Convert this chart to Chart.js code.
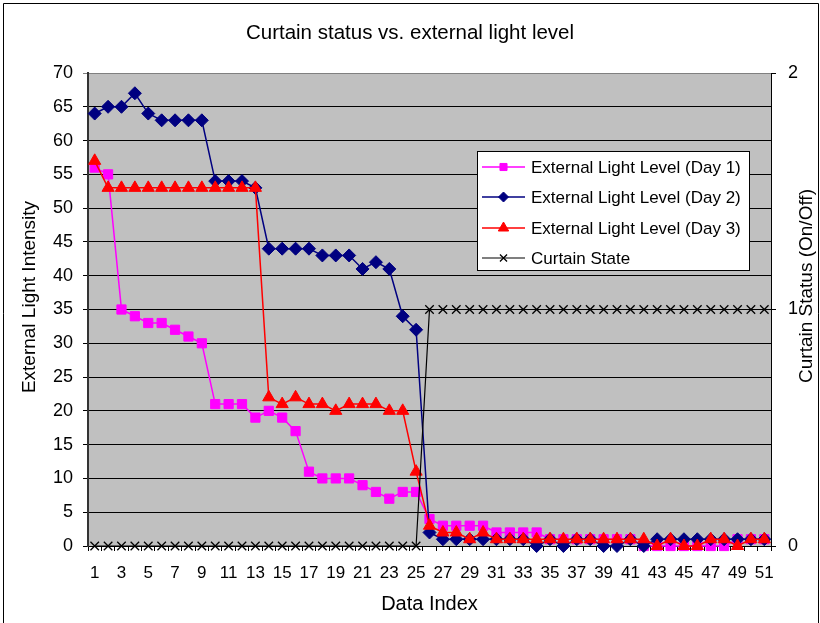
<!DOCTYPE html>
<html>
<head>
<meta charset="utf-8">
<title>Curtain status vs. external light level</title>
<script src="https://cdn.jsdelivr.net/npm/chart.js@4.4.0/dist/chart.umd.min.js"></script>
<style>
    html, body { margin: 0; padding: 0; background: #fff; }
    #wrap { width: 820px; height: 623px; }
</style>
</head>
<body>
<div id="wrap"><canvas id="chart" width="820" height="623"></canvas></div>
<script>
// Chart data
const dataIndex = ['1', '2', '3', '4', '5', '6', '7', '8', '9', '10',
    '11', '12', '13', '14', '15', '16', '17', '18', '19', '20',
    '21', '22', '23', '24', '25', '26', '27', '28', '29', '30',
    '31', '32', '33', '34', '35', '36', '37', '38', '39', '40',
    '41', '42', '43', '44', '45', '46', '47', '48', '49', '50', '51'];

const lightDay1 = [56, 55, 35, 34, 33, 33, 32, 31, 30, 21,
    21, 21, 19, 20, 19, 17, 11, 10, 10, 10,
    9, 8, 7, 8, 8, 4, 3, 3, 3, 3,
    2, 2, 2, 2, 1, 1, 1, 1, 1, 1,
    1, 0, 0, 0, 0, 0, 0, 0, 1, 1, 1];

const lightDay2 = [64, 65, 65, 67, 64, 63, 63, 63, 63, 54,
    54, 54, 53, 44, 44, 44, 44, 43, 43, 43,
    41, 42, 41, 34, 32, 2, 1, 1, 1, 1,
    1, 1, 1, 0, 1, 0, 1, 1, 0, 0,
    1, 0, 1, 1, 1, 1, 1, 1, 1, 1, 1];

const lightDay3 = [57, 53, 53, 53, 53, 53, 53, 53, 53, 53,
    53, 53, 53, 22, 21, 22, 21, 21, 20, 21,
    21, 21, 20, 20, 11, 3, 2, 2, 1, 2,
    1, 1, 1, 1, 1, 1, 1, 1, 1, 1,
    1, 1, 0, 1, 0, 0, 1, 1, 0, 1, 1];

const curtainState = [0, 0, 0, 0, 0, 0, 0, 0, 0, 0,
    0, 0, 0, 0, 0, 0, 0, 0, 0, 0,
    0, 0, 0, 0, 0, 1, 1, 1, 1, 1,
    1, 1, 1, 1, 1, 1, 1, 1, 1, 1,
    1, 1, 1, 1, 1, 1, 1, 1, 1, 1, 1];

const seriesNames = ['External Light Level (Day 1)', 'External Light Level (Day 2)',
    'External Light Level (Day 3)', 'Curtain State'];

const FONT = 'Arial, "Liberation Sans", sans-serif';

// Grey plot area, frame, in-plot legend and axis titles
const excelLook = {
    id: 'excelLook',
    beforeDraw(chart) {
        const { ctx, chartArea: a } = chart;
        ctx.save();
        ctx.fillStyle = '#fff';
        ctx.fillRect(0, 0, chart.width, chart.height);
        ctx.fillStyle = '#c0c0c0';
        ctx.fillRect(a.left, a.top, a.right - a.left, a.bottom - a.top);
        ctx.restore();
    },
    afterDraw(chart) {
        const { ctx } = chart;
        ctx.save();

        // axis titles, both reading bottom to top
        ctx.fillStyle = '#000';
        ctx.font = '19px ' + FONT;
        ctx.textAlign = 'center';
        ctx.textBaseline = 'middle';
        ctx.translate(30, 297);
        ctx.rotate(-Math.PI / 2);
        ctx.fillText('External Light Intensity', 0, 0);
        ctx.setTransform(1, 0, 0, 1, 0, 0);
        ctx.translate(807, 286);
        ctx.rotate(-Math.PI / 2);
        ctx.fillText('Curtain Status (On/Off)', 0, 0);
        ctx.setTransform(1, 0, 0, 1, 0, 0);

        // legend box
        const bx = 477.5, by = 151.5, bw = 272, bh = 119;
        ctx.fillStyle = '#fff';
        ctx.fillRect(bx, by, bw, bh);
        ctx.strokeStyle = '#000';
        ctx.lineWidth = 1;
        ctx.strokeRect(bx, by, bw, bh);

        const rows = [167, 197, 228, 258];
        chart.data.datasets.forEach((ds, i) => {
            const y = rows[i];
            ctx.strokeStyle = ds.borderColor;
            ctx.lineWidth = ds.borderWidth;
            ctx.beginPath();
            ctx.moveTo(482, y);
            ctx.lineTo(525, y);
            ctx.stroke();
            ctx.fillStyle = ds.pointBackgroundColor;
            ctx.strokeStyle = ds.pointBorderColor;
            ctx.lineWidth = ds.pointBorderWidth;
            Chart.helpers.drawPoint(ctx, {
                pointStyle: ds.pointStyle,
                radius: ds.legendRadius,
                rotation: 0,
                borderWidth: ds.pointBorderWidth
            }, 503.5, y);
            ctx.fillStyle = '#000';
            ctx.font = '17px ' + FONT;
            ctx.textAlign = 'left';
            ctx.textBaseline = 'middle';
            ctx.fillText(ds.label, 531, y + 1);
        });

        // outer chart frame
        ctx.strokeStyle = '#000';
        ctx.lineWidth = 1;
        ctx.beginPath();
        ctx.moveTo(3.5, 640);
        ctx.lineTo(3.5, 3.5);
        ctx.lineTo(818.5, 3.5);
        ctx.lineTo(818.5, 640);
        ctx.stroke();
        ctx.restore();
    }
};

const ctx = document.getElementById('chart').getContext('2d');

new Chart(ctx, {
    type: 'line',
    data: {
        labels: dataIndex,
        datasets: [{
            label: seriesNames[0],
            data: lightDay1,
            yAxisID: 'y',
            order: 4,
            borderColor: '#ff00ff',
            borderWidth: 1.5,
            pointStyle: 'rect',
            pointRadius: 6.5,
            legendRadius: 5,
            pointBackgroundColor: '#ff00ff',
            pointBorderColor: '#ff00ff',
            pointBorderWidth: 1
        }, {
            label: seriesNames[1],
            data: lightDay2,
            yAxisID: 'y',
            order: 3,
            borderColor: '#000080',
            borderWidth: 1.5,
            pointStyle: 'rectRot',
            pointRadius: 6.5,
            legendRadius: 5,
            pointBackgroundColor: '#000080',
            pointBorderColor: '#000080',
            pointBorderWidth: 1
        }, {
            label: seriesNames[2],
            data: lightDay3,
            yAxisID: 'y',
            order: 2,
            borderColor: '#ff0000',
            borderWidth: 1.5,
            pointStyle: 'triangle',
            pointRadius: 7,
            legendRadius: 6,
            pointBackgroundColor: '#ff0000',
            pointBorderColor: '#ff0000',
            pointBorderWidth: 1
        }, {
            label: seriesNames[3],
            data: curtainState,
            yAxisID: 'y1',
            order: 1,
            borderColor: '#000',
            borderWidth: 1.2,
            pointStyle: 'crossRot',
            pointRadius: 6,
            legendRadius: 5,
            pointBackgroundColor: '#000',
            pointBorderColor: '#000',
            pointBorderWidth: 1.3
        }]
    },
    options: {
        responsive: false,
        animation: false,
        devicePixelRatio: 1,
        layout: { padding: 0 },
        datasets: { line: { clip: false, tension: 0 } },
        plugins: {
            legend: { display: false },
            tooltip: { enabled: false },
            title: {
                display: true,
                text: 'Curtain status vs. external light level',
                color: '#000',
                font: { family: FONT, size: 20.5, weight: 'normal' },
                padding: { top: 21, bottom: 27.4 }
            }
        },
        scales: {
            x: {
                type: 'category',
                offset: true,
                grid: {
                    display: true,
                    drawOnChartArea: false,
                    drawTicks: true,
                    tickLength: 5,
                    offset: true,
                    color: '#000'
                },
                border: { display: true, color: '#000', width: 1 },
                ticks: {
                    autoSkip: false,
                    maxRotation: 0,
                    minRotation: 0,
                    padding: 12,
                    color: '#000',
                    font: { family: FONT, size: 17 },
                    callback: function (value, index) {
                        return index % 2 === 0 ? this.getLabelForValue(value) : '';
                    }
                },
                title: {
                    display: true,
                    text: 'Data Index',
                    color: '#000',
                    font: { family: FONT, size: 20 },
                    padding: { top: 0, bottom: 7 }
                },
                afterFit: (scale) => { scale.height = 77; }
            },
            y: {
                position: 'left',
                min: 0,
                max: 70,
                ticks: {
                    stepSize: 5,
                    padding: 10,
                    color: '#000',
                    font: { family: FONT, size: 18 }
                },
                grid: {
                    drawTicks: true,
                    tickLength: 5,
                    lineWidth: 1,
                    color: (c) => c.tick && c.tick.value === 70 ? '#808080' : '#000'
                },
                border: { display: true, color: '#333', width: 2 },
                afterFit: (scale) => { scale.width = 88; }
            },
            y1: {
                position: 'right',
                min: 0,
                max: 2,
                ticks: {
                    stepSize: 1,
                    padding: 12,
                    color: '#000',
                    font: { family: FONT, size: 18 }
                },
                grid: {
                    drawOnChartArea: false,
                    drawTicks: true,
                    tickLength: 5,
                    color: '#000'
                },
                border: { display: true, color: '#000', width: 1 },
                afterFit: (scale) => { scale.width = 49; }
            }
        }
    },
    plugins: [excelLook]
});
</script>
</body>
</html>
